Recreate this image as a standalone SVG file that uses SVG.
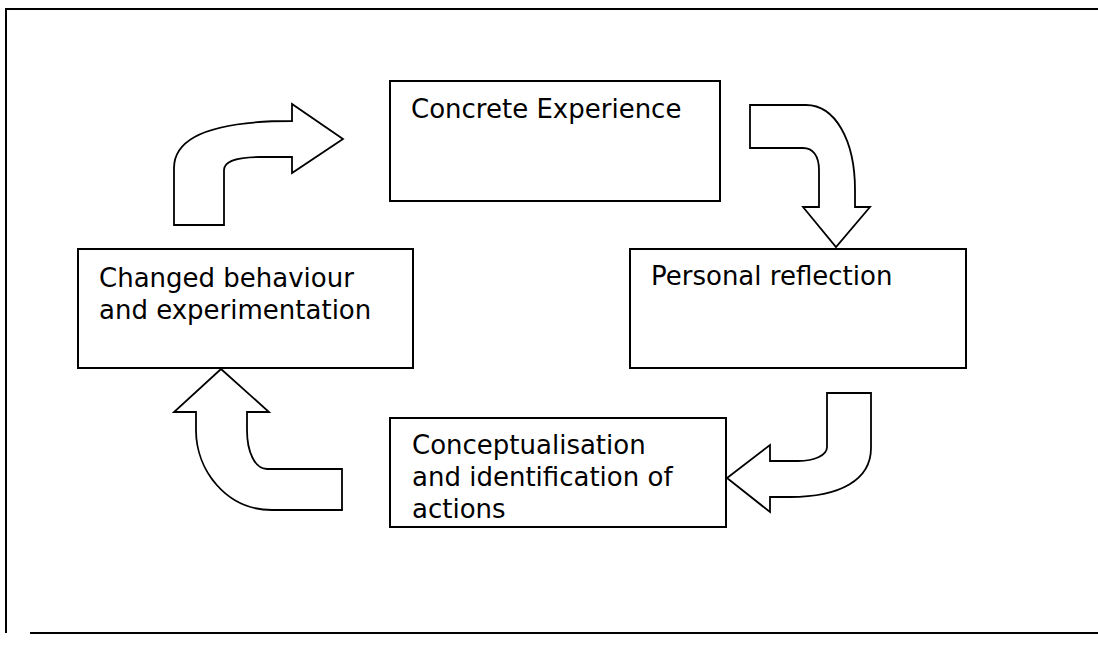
<svg xmlns="http://www.w3.org/2000/svg" width="1098" height="661" viewBox="0 0 1098 661">
  <style>
    .frame { stroke: #000; stroke-width: 2; fill: none; }
    .box { fill: #fff; stroke: #000; stroke-width: 2; }
    .arrow { fill: #fff; stroke: #000; stroke-width: 1.8; stroke-linejoin: miter; }
    .label { font-family: "DejaVu Sans", Verdana, sans-serif; font-size: 26px; fill: #000; }
  </style>
  <rect width="1098" height="661" fill="#fff"/>

  <!-- page frame -->
  <g id="frame">
    <line class="frame" x1="5" y1="9" x2="1098" y2="9"/>
    <line class="frame" x1="6" y1="9" x2="6" y2="633"/>
    <line class="frame" x1="30" y1="633" x2="1098" y2="633"/>
  </g>

  <!-- block arrows -->
  <g id="connectors">
    <path class="arrow" d="M174,225 L174,168 C174,136 215,121 292,121 L292,104 L343,139 L292,173 L292,157 L260,157 C236,157 224,162 224,170 L224,225 Z"/>
    <path class="arrow" d="M750,105 L806,105 C835,105 855,140 855,190 L855,207 L870,207 L836,247 L803,207 L819,207 L819,170 C819,156 813,148 803,148 L750,148 Z"/>
    <path class="arrow" d="M827,393 L871,393 L871,448 C871,480 840,497 790,497 L770,497 L770,512 L727,478 L770,445 L770,461 L798,461 C815,461 827,455 827,447 Z"/>
    <path class="arrow" d="M221,369 L269,412 L247,412 L247,430 C247,452 255,469 267,469 L342,469 L342,510 L272,510 C226,510 196,470 196,430 L196,412 L174,412 Z"/>
  </g>

  <g id="concrete-experience">
    <rect class="box" x="390" y="81" width="330" height="120"/>
    <text class="label" x="411" y="118">Concrete Experience</text>
  </g>

  <g id="personal-reflection">
    <rect class="box" x="630" y="249" width="336" height="119"/>
    <text class="label" x="651" y="285">Personal reflection</text>
  </g>

  <g id="conceptualisation">
    <rect class="box" x="390" y="418" width="336" height="109"/>
    <text class="label" x="412" y="454">Conceptualisation</text>
    <text class="label" x="412" y="486">and identification of</text>
    <text class="label" x="412" y="518">actions</text>
  </g>

  <g id="changed-behaviour">
    <rect class="box" x="78" y="249" width="335" height="119"/>
    <text class="label" x="99" y="287">Changed behaviour</text>
    <text class="label" x="99" y="319">and experimentation</text>
  </g>
</svg>
